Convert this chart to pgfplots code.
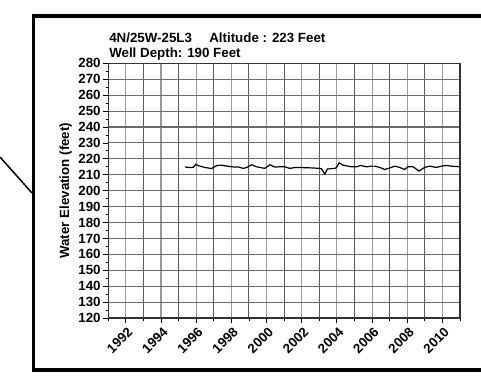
\documentclass[border=0pt]{standalone}
\usepackage{pgfplots}
\pgfplotsset{compat=1.18}
\usepackage{fontspec}
\setmainfont{Liberation Sans}
\begin{document}
\begin{tikzpicture}
\begin{scope}[x=0.75pt,y=0.75pt]
\path[use as bounding box] (0,0) rectangle (481,377);
\begin{scope}
\clip (0,0) rectangle (481,377);
\draw[line width=2.4pt] (33.5,7) rectangle (520,361);
\draw[line width=1.1pt] (0,220) -- (32,184);
\end{scope}
\node[anchor=base west, inner sep=0pt, font=\bfseries\fontsize{10}{11}\selectfont] at (109,334) {4N/25W-25L3\hspace{1.3em}Altitude : 223 Feet};
\node[anchor=base west, inner sep=0pt, font=\bfseries\fontsize{10}{11}\selectfont] at (109,319.5) {Well Depth: 190 Feet};
\end{scope}
\begin{axis}[
  at={(81.2pt,44.25pt)}, anchor=south west,
  scale only axis, width=263.8pt, height=191pt,
  xmin=1991, xmax=2011, ymin=120, ymax=280,
  xtick={1992,1994,...,2010},
  minor xtick={1991,1993,...,2011},
  ytick={120,130,...,280},
  minor ytick={125,135,...,275},
  tick align=outside,
  major tick length=4pt, minor tick length=2pt,
  xtick pos=bottom, ytick pos=left,
  grid=both,
  major grid style={line width=0.8pt, black!40},
  minor grid style={line width=0.8pt, black!65},
  ymajorgrids=true, yminorgrids=false,
  y grid style={line width=0.8pt, black!58},
  every tick/.style={black, line width=0.6pt},
  axis line style={line width=0.8pt, black!80},
  tick label style={font=\bfseries\fontsize{10}{11}\selectfont},
  xticklabel style={rotate=45, anchor=north east, inner sep=1pt, yshift=-1pt},
  yticklabel style={inner sep=1.5pt},
  ylabel={\bfseries Water Elevation (feet)},
  ylabel style={font=\bfseries\fontsize{10}{11}\selectfont, at={(axis description cs:-0.09,0.5)}},
  /pgf/number format/assume math mode=true,
  /pgf/number format/1000 sep={},
  clip=false,
]
\addplot[black, line width=0.9pt] coordinates {
(1995.36,214.9) (1995.64,214.5) (1995.84,214.7) (1995.98,216.6) (1996.11,215.7)
(1996.49,214.6) (1996.87,213.9) (1997.16,215.7) (1997.44,216.0) (1997.82,215.3)
(1998.10,214.9) (1998.39,214.9) (1998.67,214.0) (1998.86,214.5) (1999.05,215.6)
(1999.15,216.3) (1999.43,215.0) (1999.90,214.0) (2000.19,216.3) (2000.47,214.8)
(2000.75,215.0) (2001.04,215.0) (2001.32,214.0) (2001.60,214.5) (2001.99,214.5)
(2002.55,214.3) (2003.03,214.0) (2003.12,213.8) (2003.31,210.4) (2003.46,213.6)
(2003.88,214.0) (2003.98,214.6) (2004.13,217.5) (2004.35,216.0) (2004.83,215.0)
(2005.11,215.0) (2005.36,215.8) (2005.68,215.0) (2005.97,215.4) (2006.15,215.4)
(2006.44,214.6) (2006.72,213.3) (2007.00,214.2) (2007.29,215.4) (2007.57,214.6)
(2007.85,213.3) (2008.04,215.0) (2008.33,215.0) (2008.67,212.3) (2008.99,214.6)
(2009.28,215.4) (2009.66,214.6) (2009.94,215.4) (2010.23,215.8) (2010.51,215.4)
(2010.99,215.0)
};
\end{axis}
\end{tikzpicture}
\end{document}
